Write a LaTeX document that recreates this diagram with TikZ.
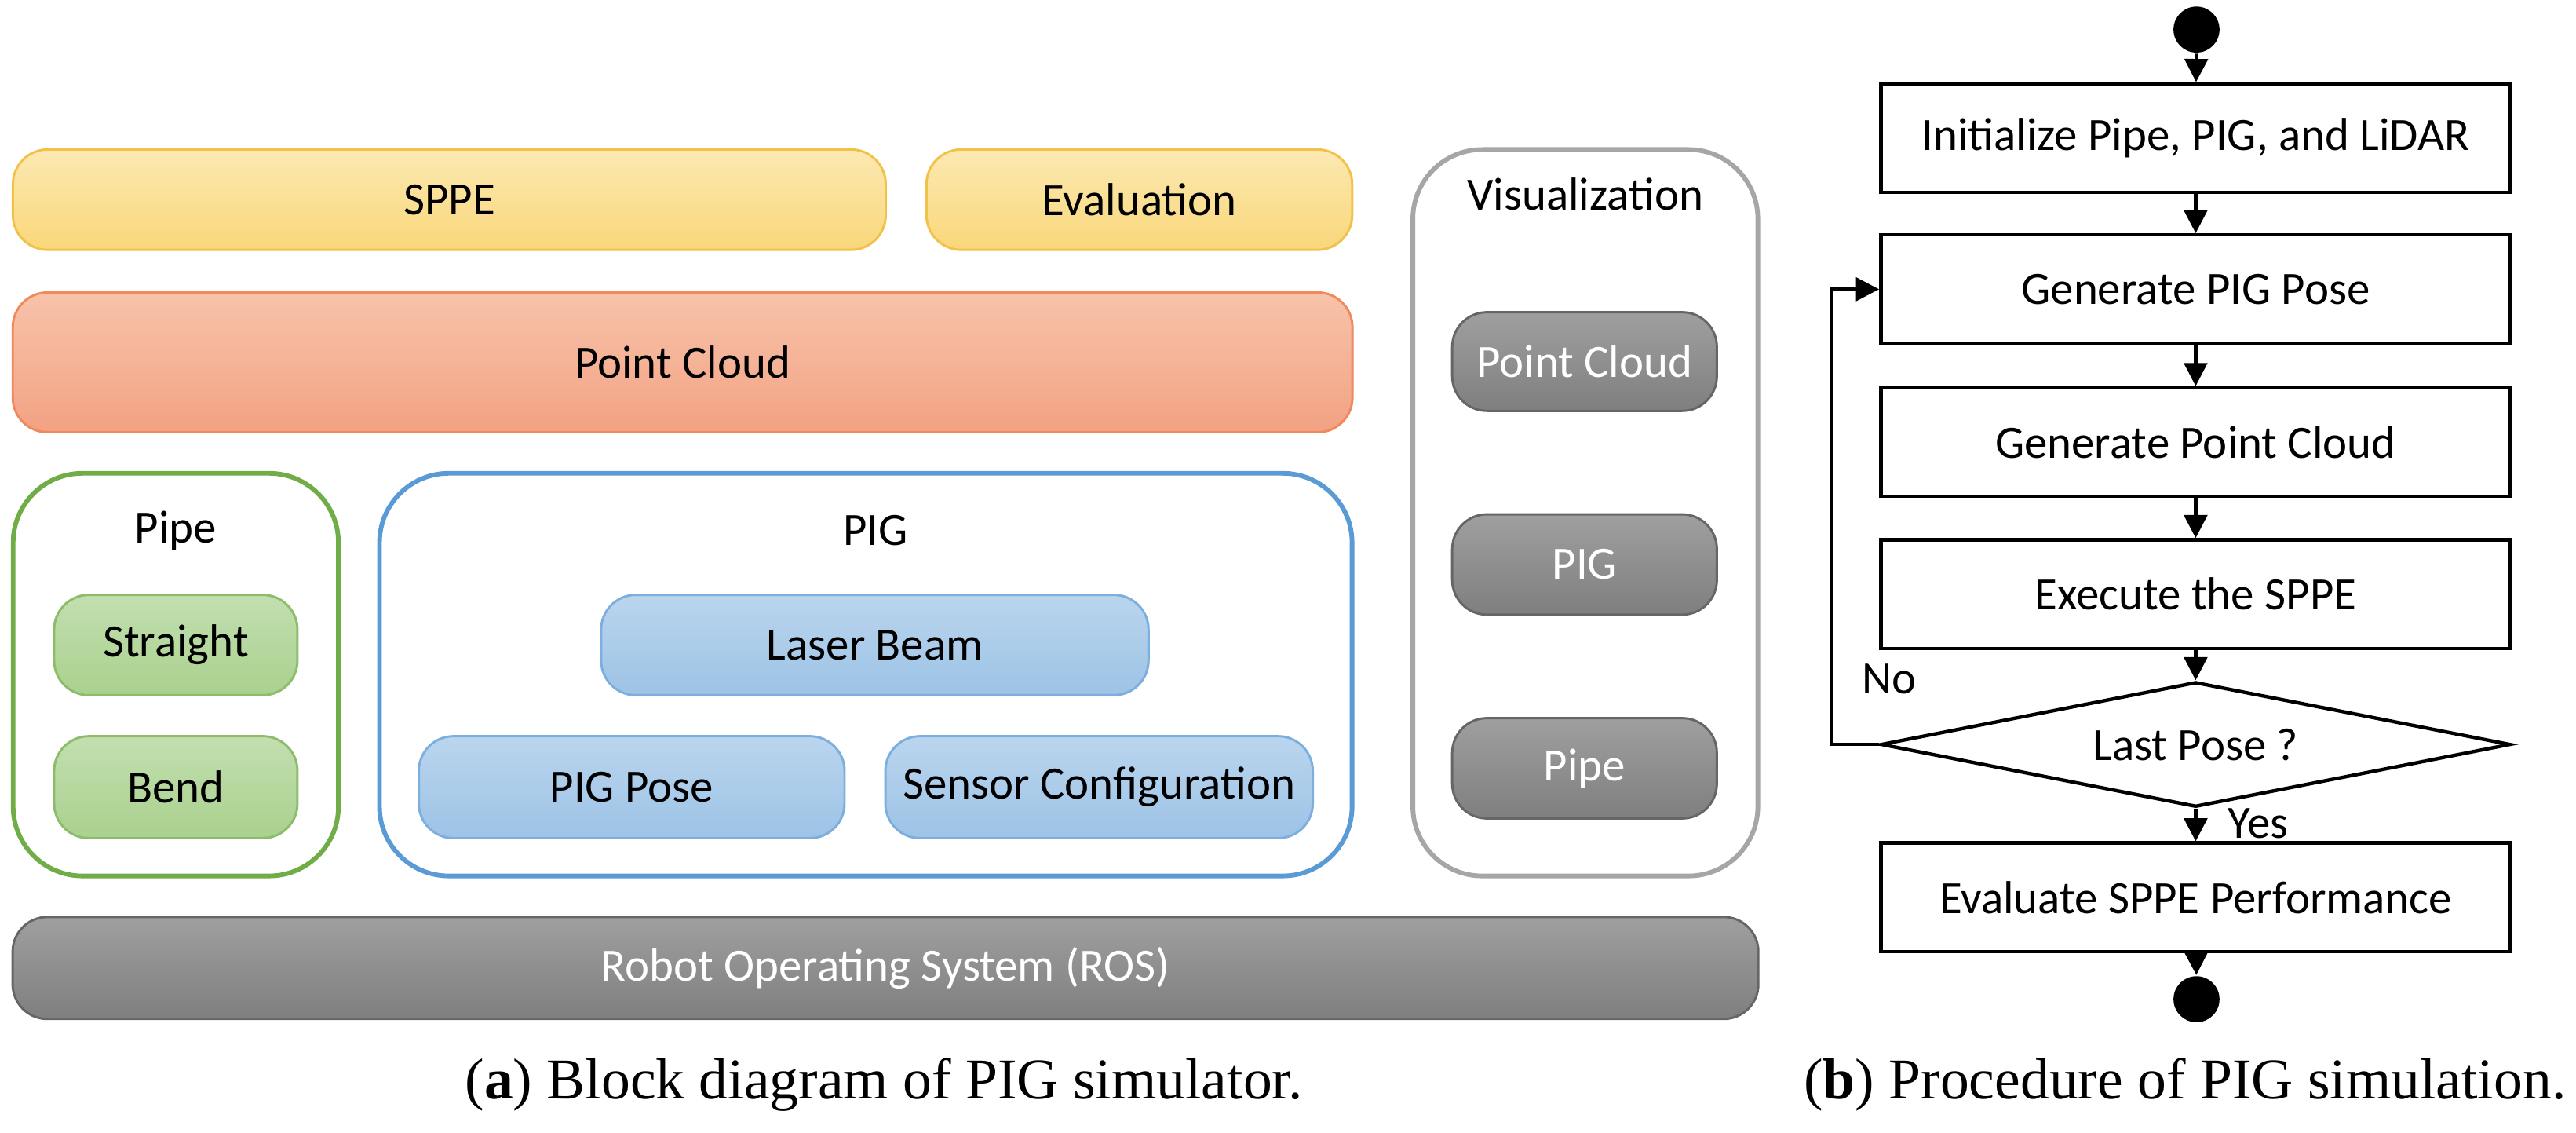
\documentclass[tikz,border=0pt]{standalone}
\usepackage{fontspec}
\newfontfamily\calib{Carlito}
\newfontfamily\capser{Liberation Serif}
\usetikzlibrary{positioning,shapes.geometric,arrows.meta}
\definecolor{ylwA}{HTML}{FCE9B2}
\definecolor{ylwB}{HTML}{F9D77A}
\definecolor{ylwL}{HTML}{F2C14A}
\definecolor{salA}{HTML}{F7C3AA}
\definecolor{salB}{HTML}{F3A283}
\definecolor{salL}{HTML}{EE8A5E}
\definecolor{grnF}{HTML}{A9D18E}
\definecolor{grnL}{HTML}{70AD47}
\definecolor{bluF}{HTML}{9DC3E6}
\definecolor{bluL}{HTML}{5B9BD5}
\definecolor{gryF}{HTML}{7F7F7F}
\definecolor{gryL}{HTML}{A6A6A6}
\tikzset{
  blk/.style={rounded corners=6pt, draw, inner sep=0, font=\calib\fontsize{8}{10}\selectfont},
  ylw/.style={blk, draw=ylwL, top color=ylwA, bottom color=ylwB},
  sal/.style={blk, draw=salL, top color=salA, bottom color=salB},
  grn/.style={blk, draw=grnL!80, top color=grnF!70, bottom color=grnF},
  blu/.style={blk, draw=bluL!80, top color=bluF!70, bottom color=bluF},
  gry/.style={blk, draw=gryF!80!black, top color=gryF!75, bottom color=gryF, text=white},
  frame/.style={rounded corners=12pt, draw, fill=white, line width=0.8pt},
  lbl/.style={font=\calib\fontsize{8}{10}\selectfont},
  capt/.style={font=\capser\fontsize{10}{12}\selectfont},
  proc/.style={draw, line width=0.6pt, inner sep=0, minimum width=3.83cm, minimum height=0.66cm, font=\calib\fontsize{8}{10}\selectfont},
  dot/.style={circle, fill=black, minimum size=0.28cm, inner sep=0},
  flow/.style={-{Triangle[length=4pt,width=4pt]}, line width=0.6pt}
}
\begin{document}
\begin{tikzpicture}[x=0.01cm, y=-0.01cm]
		\useasboundingbox (0,0) rectangle (1568,689);
		% block diagram
		\node[ylw, minimum width=5.31cm, minimum height=0.61cm] (sppe) at (273.5,121.5) {SPPE};
		\node[ylw, minimum width=2.59cm, minimum height=0.61cm] (eval) at (693.5,121.5) {Evaluation};
		\node[sal, minimum width=8.15cm, minimum height=0.85cm] (cloud) at (415.5,220.5) {Point Cloud};
		\draw[frame, draw=grnL] (8,288) rectangle (206,533);
		\node[lbl] (pipelbl) at (107,323) {Pipe};
		\node[grn, minimum width=1.48cm, minimum height=0.61cm] (straight) at (107,392.5) {Straight};
		\node[grn, minimum width=1.48cm, minimum height=0.62cm] (bend) at (107,479) {Bend};
		\draw[frame, draw=bluL] (231,288) rectangle (823,533);
		\node[lbl] (piglbl) at (533,323) {PIG};
		\node[blu, minimum width=3.33cm, minimum height=0.61cm] (laser) at (532.5,392.5) {Laser Beam};
		\node[blu, minimum width=2.59cm, minimum height=0.62cm] (pose) at (384.5,479) {PIG Pose};
		\node[blu, minimum width=2.60cm, minimum height=0.62cm] (sensor) at (669,479) {Sensor Configuration};
		\draw[frame, draw=gryL] (860,91) rectangle (1070,533);
		\node[lbl] (vislbl) at (965,118) {Visualization};
		\node[gry, minimum width=1.61cm, minimum height=0.60cm] (vcloud) at (964.5,220) {Point Cloud};
		\node[gry, minimum width=1.61cm, minimum height=0.61cm] (vpig) at (964.5,343.5) {PIG};
		\node[gry, minimum width=1.61cm, minimum height=0.61cm] (vpipe) at (964.5,467.5) {Pipe};
		\node[gry, minimum width=10.62cm, minimum height=0.62cm] (ros) at (539,589) {Robot Operating System (ROS)};
		\node[capt] (capa) at (538,660) {(\textbf{a}) Block diagram of PIG simulator.};
		% procedure
		\node[dot] (start) at (1337,18) {};
		\node[proc] (init) at (1336.5,84) {Initialize Pipe, PIG, and LiDAR};
		\node[proc] (genpose) at (1336.5,176) {Generate PIG Pose};
		\node[proc] (gencloud) at (1336.5,269) {Generate Point Cloud};
		\node[proc] (exec) at (1336.5,361.5) {Execute the SPPE};
		\node[diamond, draw, line width=0.6pt, aspect=5, inner sep=0, minimum width=3.83cm, minimum height=0.76cm, font=\calib\fontsize{8}{10}\selectfont] (last) at (1336.5,453) {Last Pose ?};
		\node[proc] (evalperf) at (1336.5,546) {Evaluate SPPE Performance};
		\node[dot] (stop) at (1337,608) {};
		\coordinate (loopA) at (1115,453);
		\coordinate (loopB) at (1115,176);
		\draw[flow] (start) -- (init);
		\draw[flow] (init) -- (genpose);
		\draw[flow] (genpose) -- (gencloud);
		\draw[flow] (gencloud) -- (exec);
		\draw[flow] (exec) -- (last);
		\draw[flow] (last) -- node[pos=0.45, right=2pt, lbl] {Yes} (evalperf);
		\draw[flow] (evalperf) -- (stop);
		\draw[flow] (last.west) -- (loopA) -- (loopB) -- (genpose.west);
		\node[lbl] (nolbl) at (1150,413) {No};
		\node[capt] (capb) at (1330,660) {(\textbf{b}) Procedure of PIG simulation.};
\end{tikzpicture}
\end{document}
